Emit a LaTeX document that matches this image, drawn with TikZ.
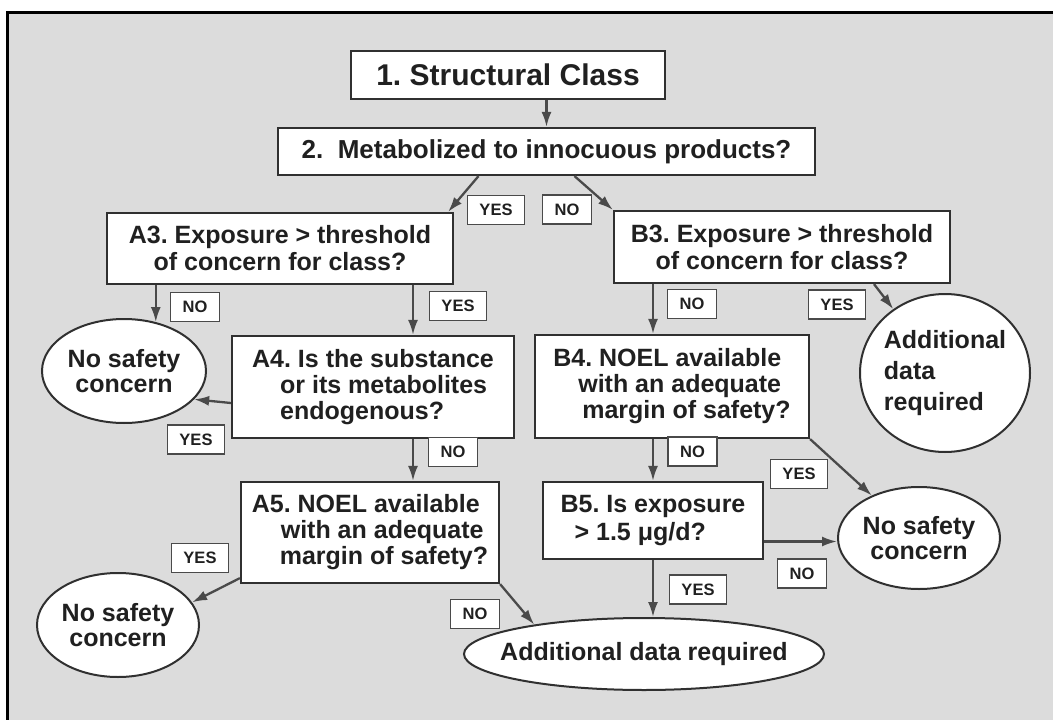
\documentclass[tikz,border=0pt]{standalone}
\usepackage{fontspec}
\setmainfont{Liberation Sans}
\usetikzlibrary{arrows.meta,shapes.geometric}
\definecolor{bg}{HTML}{DCDCDC}
\definecolor{ln}{HTML}{4A4A4A}
\definecolor{bd}{HTML}{303030}
\definecolor{txt}{HTML}{202020}
\frenchspacing
\begin{document}
\frenchspacing
\begin{tikzpicture}[x=1pt,y=-1pt,
  box/.style={draw=bd, line width=2.2pt, fill=white, inner sep=0pt, text=txt,
    font=\bfseries\fontsize{25}{26}\selectfont},
  ell/.style={ellipse, draw=bd, line width=2pt, fill=white, inner sep=0pt},
  etxt/.style={inner sep=0pt, align=center, text=txt,
    font=\bfseries\fontsize{25}{25}\selectfont},
  lab/.style={draw=ln, line width=1.6pt, fill=white, inner sep=0pt, text=txt,
    minimum height=29pt, font=\bfseries\fontsize{16.5}{16.5}\selectfont},
  yeslab/.style={lab, minimum width=57pt},
  nolab/.style={lab, minimum width=49pt},
  arr/.style={draw=ln, line width=2.3pt, -{Latex[length=15pt,width=10pt]}}]
\useasboundingbox (0,0) rectangle (1053,720);
\fill[white] (0,0) rectangle (1053,720);
\fill[bg] (7,12) rectangle (1053,720);
\draw[line width=3pt, black] (7,720) -- (7,12) -- (1053,12);

% boxes
\node[box, minimum width=314pt, minimum height=48pt,
  font=\bfseries\fontsize{30}{32}\selectfont] (s1) at (508,75) {1. Structural Class};
\node[box, minimum width=537pt, minimum height=47pt,
  font=\bfseries\fontsize{26}{28}\selectfont] (s2) at (546.5,151.5) {2.\ \ Metabolized to innocuous products?};
\node[box, minimum width=346pt, minimum height=71pt, align=center,
  font=\bfseries\fontsize{25}{27}\selectfont] (A3) at (280,248.5) {A3. Exposure > threshold\\of concern for class?};
\node[box, minimum width=336pt, minimum height=72pt, align=center,
  font=\bfseries\fontsize{25}{27}\selectfont] (B3) at (782,247) {B3. Exposure > threshold\\of concern for class?};
\node[box, minimum width=282pt, minimum height=102pt, align=left] (A4) at (373,387)
  {A4. Is the substance\\\hspace*{28pt}or its metabolites\\\hspace*{28pt}endogenous?};
\node[box, minimum width=274pt, minimum height=103pt, align=left] (B4) at (672,386.5)
  {B4. NOEL available\\\hspace*{25pt}with an adequate\\\hspace*{29pt}margin of safety?};
\node[box, minimum width=258pt, minimum height=101pt, align=left] (A5) at (370,532.5)
  {A5. NOEL available\\\hspace*{29pt}with an adequate\\\hspace*{28pt}margin of safety?};
\node[box, minimum width=220pt, minimum height=77pt, align=left,
  font=\bfseries\fontsize{25}{28}\selectfont] (B5) at (653,520.5)
  {B5. Is exposure\\\hspace*{14pt}> 1.5 μg/d?};

% end ellipses
\node[ell, minimum width=164pt, minimum height=104pt] (n1) at (124,371) {};
\node[etxt] (n1t) at (n1) {No safety\\concern};
\node[ell, minimum width=162pt, minimum height=104pt] (n2) at (118,625) {};
\node[etxt] (n2t) at (n2) {No safety\\concern};
\node[ell, minimum width=162pt, minimum height=102pt] (n3) at (919,538) {};
\node[etxt] (n3t) at (n3) {No safety\\concern};
\node[ell, minimum width=170pt, minimum height=158pt] (d1) at (945,373) {};
\node[etxt, align=left, font=\bfseries\fontsize{25}{31}\selectfont] (d1t) at (d1) {Additional\\data\\required};
\node[ell, minimum width=360pt, minimum height=72pt] (d2) at (644,654) {};
\node[etxt] (d2t) at (d2) {Additional data required};

% helper coordinates
\coordinate (a3a4) at ([xshift=40pt]A4.north);
\coordinate (a4a5) at ([xshift=43pt]A5.north);
\coordinate (b3b4) at ([xshift=-19pt]B4.north);
\coordinate (b5n3) at ([yshift=-21pt]B5.east);

% connectors
\draw[arr] (s2.north |- s1.south) -- (s2.north);
\draw[arr] ([xshift=-68pt]s2.south) -- ([xshift=-6pt]A3.north east);
\draw[arr] ([xshift=28pt]s2.south) -- (B3.north west);
\draw[arr] (n1.57 |- A3.south) -- (n1.57);
\draw[arr] (a3a4 |- A3.south) -- (a3a4);
\draw[arr] ([yshift=-16pt]A4.west) -- (n1.-22);
\draw[arr] (a4a5 |- A4.south) -- (a4a5);
\draw[arr] ([yshift=6pt]A5.south west) -- (n2.17);
\draw[arr] (A5.south east) -- (d2.165);
\draw[arr] (b3b4 |- B3.south) -- (b3b4);
\draw[arr] ([xshift=92pt]B3.south) -- (d1.129);
\draw[arr] (B5.north |- B4.south) -- (B5.north);
\draw[arr] (B4.south east) -- (n3.138);
\draw[arr] (b5n3) -- (b5n3 -| n3.west);
\draw[arr] (B5.south) -- (B5.south |- d2.north);

% branch labels
\node[yeslab] (l1) at (496,210) {YES};
\node[nolab]  (l2) at (567,209.5) {NO};
\node[nolab]  (l3) at (195,307) {NO};
\node[yeslab] (l4) at (458,306) {YES};
\node[yeslab] (l5) at (196,439.5) {YES};
\node[nolab]  (l6) at (453,452) {NO};
\node[yeslab] (l7) at (200,558) {YES};
\node[nolab]  (l8) at (475,614) {NO};
\node[nolab]  (l9) at (692,304) {NO};
\node[yeslab] (l10) at (837,304.5) {YES};
\node[nolab]  (l11) at (692.5,451.5) {NO};
\node[yeslab] (l12) at (799,474) {YES};
\node[nolab]  (l13) at (802,573.5) {NO};
\node[yeslab] (l14) at (698,589.5) {YES};
\end{tikzpicture}
\end{document}
